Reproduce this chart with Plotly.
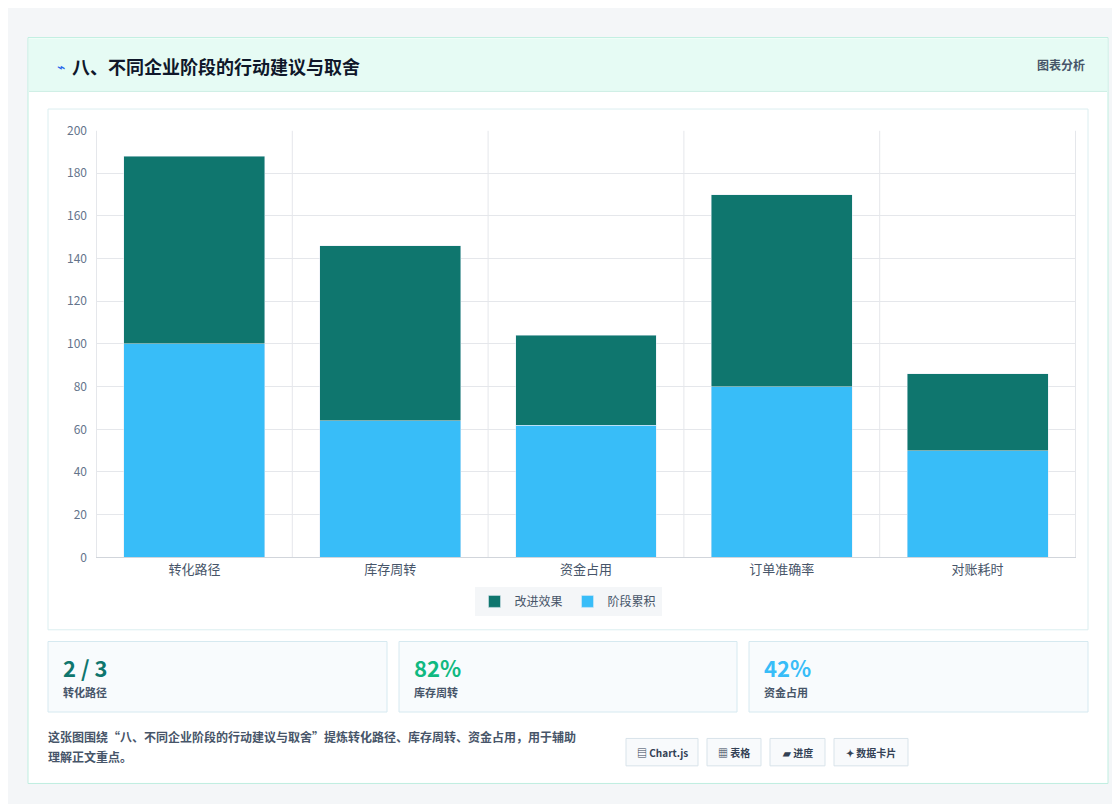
import plotly.graph_objects as go

W, H = 1120, 804

categories = ['转化路径', '库存周转', '资金占用', '订单准确率', '对账耗时']
stage_acc = [100, 64, 62, 80, 50]
improve = [88, 82, 42, 90, 36]

stat_values = ['2 / 3', '82%', '42%']
stat_labels = ['转化路径', '库存周转', '资金占用']
stat_colors = ['#0f766e', '#10b981', '#38bdf8']
pills = ['▤ Chart.js', '▦ 表格', '▰ 进度', '✦ 数据卡片']


def px(x):
    return x / W


def py(y):
    return 1 - y / H


fig = go.Figure()
fig.add_bar(x=categories, y=stage_acc, name='阶段累积', marker_color='#38bdf8', width=0.72)
fig.add_bar(x=categories, y=improve, name='改进效果', marker_color='#0f766e', width=0.72)

shapes = []
ann = []


def rect(x0, y0, x1, y1, fill, line='rgba(0,0,0,0)', lw=1, layer='below'):
    shapes.append(dict(type='rect', xref='paper', yref='paper', x0=px(x0), x1=px(x1),
                       y0=py(y1), y1=py(y0), fillcolor=fill, line=dict(color=line, width=lw),
                       layer=layer))


def text(x, y, s, size=12, color='#475569', anchor='left', bold=False):
    ann.append(dict(xref='paper', yref='paper', x=px(x), y=py(y), text='<b>%s</b>' % s if bold else s,
                    showarrow=False, xanchor=anchor, yanchor='middle',
                    font=dict(size=size, color=color)))


# outer card + header
rect(20, 20, 1100, 782, 'white', '#bfeee0')
rect(21, 21, 1099, 75, '#e6fbf4')
shapes.append(dict(type='line', xref='paper', yref='paper', x0=px(21), x1=px(1099),
                   y0=py(75), y1=py(75), line=dict(color='#cdeee4', width=1), layer='below'))
text(47, 49, '⌁', 14, '#2563eb')
text(62, 49, '八、不同企业阶段的行动建议与取舍', 18, '#0f172a', bold=True)
text(1079, 48, '图表分析', 12, '#475569', 'right', bold=True)

# chart panel
rect(40, 93, 1080, 625, 'white', '#dbeef0')

# stat cards
for i, (x0, x1) in enumerate([(40, 379), (391, 729), (741, 1080)]):
    rect(x0, 637, x1, 709, '#f8fbfd', '#d6e9f0')
    text(x0 + 13, 663, stat_values[i], 22, stat_colors[i], bold=True)
    text(x0 + 13, 689, stat_labels[i], 11, '#475569', bold=True)

# footer
text(38, 734, '这张图围绕“八、不同企业阶段的行动建议与取舍”提炼转化路径、库存周转、资金占用，用于辅助', 12, '#475569', bold=True)
text(38, 754, '理解正文重点。', 12, '#475569', bold=True)
for s, (x0, x1) in zip(pills, [(618, 690), (699, 753), (762, 817), (826, 900)]):
    shapes.append(dict(type='path', xref='paper', yref='paper',
                       path='M %f,%f L %f,%f L %f,%f L %f,%f Z' % (px(x0), py(736), px(x1), py(736), px(x1), py(764), px(x0), py(764)),
                       fillcolor='#f8fafc', line=dict(color='#d8e3ea', width=1), layer='below'))
    text((x0 + x1) / 2, 750, s, 10, '#334155', 'center', bold=True)

fig.update_layout(
    width=W, height=H, barmode='stack', bargap=0.28,
    margin=dict(l=0, r=0, t=0, b=0),
    paper_bgcolor='#f4f6f8', plot_bgcolor='white',
    font=dict(family='Noto Sans CJK SC, Noto Sans, sans-serif', color='#64748b', size=12),
    shapes=shapes, annotations=ann,
    xaxis=dict(domain=[px(88), px(1068)], showgrid=True, gridcolor='#e5e7eb',
               tickfont=dict(size=13, color='#475569'), ticks='', linecolor='#d1d5db'),
    yaxis=dict(domain=[py(551), py(115)], range=[0, 200], dtick=20, gridcolor='#e5e7eb',
               tickfont=dict(size=12, color='#64748b'), zeroline=False, ticklabelstandoff=8),
    legend=dict(orientation='h', x=px(560), xanchor='center', y=py(596), yanchor='middle',
                font=dict(size=12, color='#475569')),
    showlegend=True,
)
# vertical category separators instead of center grid
fig.update_xaxes(showgrid=False)
for i in range(len(categories) + 1):
    fig.add_shape(type='line', xref='x', yref='y', x0=i - 0.5, x1=i - 0.5, y0=0, y1=200,
                  line=dict(color='#e5e7eb', width=1), layer='below')

fig.write_html('out.html')
